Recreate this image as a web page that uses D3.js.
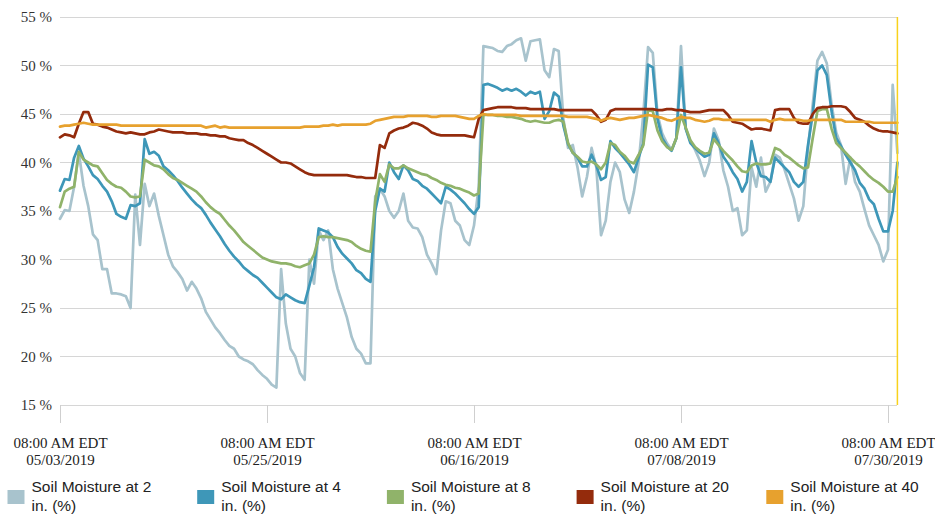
<!DOCTYPE html>
<html>
<head>
<meta charset="utf-8">
<script src="https://cdn.jsdelivr.net/npm/d3@7"></script>
<style>
  body { margin: 0; background: #fff; }
  svg { display: block; }
</style>
</head>
<body>
<svg id="chart" width="935" height="515"></svg>
<script>
// Readings every 12 hours, starting 08:00 AM EDT on 05/03/2019
const startTime = "2019-05-03T08:00:00-04:00";
const stepHours = 12;

const soil2 = [
  34.2, 35.1, 35.0, 37.5, 41.0, 37.6, 35.5, 32.6, 32.0, 29.0,
  29.0, 26.5, 26.5, 26.4, 26.2, 25.0, 36.7, 31.5, 37.8, 35.5,
  36.8, 34.5, 32.5, 30.5, 29.3, 28.7, 28.0, 26.8, 27.7, 27.0,
  26.0, 24.6, 23.8, 23.0, 22.4, 21.7, 21.1, 20.8, 20.0, 19.7,
  19.5, 19.2, 18.6, 18.1, 17.7, 17.1, 16.8, 29.0, 23.4, 20.8,
  20.0, 18.3, 17.6, 30.0, 27.5, 33.0, 32.0, 33.0, 29.0, 27.0,
  25.5, 24.0, 22.0, 20.8, 20.3, 19.3, 19.3, 36.5, 37.3, 36.5,
  35.0, 34.3, 35.0, 36.8, 34.0, 33.3, 33.2, 32.3, 30.5, 29.6,
  28.5, 33.0, 36.0, 35.8, 34.0, 33.5, 32.0, 31.5, 33.5, 37.5,
  52.0, 51.9, 51.8, 51.5, 51.4, 52.0, 52.2, 52.6, 52.8, 50.5,
  52.5, 52.6, 52.7, 49.5, 48.8, 51.7, 51.5, 44.5, 41.5, 41.8,
  39.5, 36.5, 38.5, 41.5, 39.5, 32.5, 34.0, 38.0, 40.0, 39.0,
  36.2, 34.8, 37.0, 40.0, 45.0, 51.9, 51.3, 45.0, 43.0, 42.0,
  41.3, 42.5, 52.0, 43.5, 42.2, 41.3, 40.2, 38.6, 40.0, 43.5,
  42.3, 39.2, 37.5, 35.0, 35.3, 32.5, 33.0, 39.5, 37.5, 40.5,
  37.0, 38.0, 40.8, 40.5, 39.3, 37.8, 36.3, 34.0, 35.5, 41.5,
  46.0, 50.5, 51.4, 50.2, 46.0, 43.1, 41.8, 37.8, 40.5, 38.0,
  37.0, 35.2, 33.5, 32.5, 31.5, 29.8, 31.0, 48.0, 41.0
];

const soil4 = [
  37.1, 38.3, 38.2, 40.5, 41.7, 40.4, 39.6, 38.7, 38.3, 37.6,
  37.0, 36.0, 34.7, 34.4, 34.2, 35.6, 35.5, 35.8, 42.4, 40.9,
  41.1, 40.7, 39.6, 39.2, 38.7, 38.1, 37.4, 36.8, 36.2, 35.7,
  35.3, 34.6, 33.8, 33.1, 32.4, 31.6, 30.9, 30.3, 29.8, 29.2,
  28.8, 28.4, 28.1, 27.6, 27.1, 26.6, 26.1, 25.9, 26.4, 26.1,
  25.8, 25.6, 25.5, 27.3, 29.2, 33.2, 33.0, 32.8, 32.3, 31.3,
  30.6, 30.1, 29.6, 28.9, 28.6, 28.0, 27.7, 35.0, 37.3, 37.0,
  40.0, 39.0, 38.3, 39.7, 39.2, 38.3, 38.1, 37.6, 37.3, 36.8,
  36.3, 35.8, 37.5, 37.2, 36.8, 36.3, 35.8, 35.2, 34.7, 35.4,
  48.0, 48.1, 47.9, 47.7, 47.4, 47.6, 47.4, 47.6, 47.3, 46.9,
  47.3, 47.1, 47.3, 44.5, 45.3, 47.2, 46.8, 43.8, 41.9, 41.0,
  40.5, 39.6, 39.6, 40.8, 39.7, 38.2, 38.5, 42.2, 41.5, 41.0,
  40.4, 39.8, 39.0, 40.5, 42.0, 50.1, 49.8, 44.5, 42.5, 41.7,
  41.2, 42.5, 49.8, 43.5, 42.0, 41.5, 41.0, 40.6, 40.8, 43.0,
  42.0, 40.6, 39.9, 39.0, 38.3, 37.0, 38.0, 42.2, 40.0, 38.6,
  38.5, 38.0, 40.5, 40.0, 39.5, 39.0, 38.0, 37.5, 38.0, 41.8,
  45.0, 49.5, 50.0, 49.0, 45.3, 42.5, 41.7, 40.8, 40.0, 39.2,
  37.9, 37.3, 36.2, 35.7, 34.2, 32.9, 32.9, 35.0, 40.0
];

const soil8 = [
  35.4, 37.0, 37.3, 37.5, 41.1, 40.3, 40.0, 39.7, 39.6, 38.9,
  38.2, 37.8, 37.5, 37.4, 37.0, 36.5, 36.4, 36.5, 40.3, 40.0,
  39.7, 39.6, 39.3, 38.8, 38.4, 38.2, 37.9, 37.6, 37.3, 37.0,
  36.5, 35.9, 35.4, 35.0, 34.7, 34.1, 33.5, 33.0, 32.4, 31.8,
  31.4, 31.0, 30.6, 30.2, 30.0, 29.8, 29.7, 29.6, 29.6, 29.5,
  29.3, 29.2, 29.4, 29.6, 30.5, 32.3, 32.4, 32.3, 32.3, 32.2,
  32.1, 32.0, 31.8, 31.4, 31.1, 30.9, 30.8, 36.0, 38.8, 38.0,
  39.8, 39.4, 39.4, 39.7, 39.4, 39.2, 39.0, 38.8, 38.7, 38.4,
  38.2, 37.9, 37.7, 37.6, 37.4, 37.3, 37.1, 36.9, 36.6, 36.8,
  44.9, 44.9, 44.9, 44.8, 44.8, 44.7, 44.7, 44.6, 44.5, 44.3,
  44.2, 44.3, 44.2, 44.1, 44.1, 44.3, 44.4, 44.2, 42.0, 41.0,
  40.6, 40.1, 40.0, 40.1, 39.8, 39.3, 40.0, 42.0, 41.8, 41.1,
  40.7, 40.1, 39.9, 40.8, 41.8, 45.4, 45.3, 43.3, 42.2, 41.6,
  41.3, 42.5, 44.9, 43.6, 42.3, 41.6, 41.2, 40.9, 41.0, 42.4,
  41.8, 41.2, 40.7, 40.2, 39.6, 39.1, 39.0, 39.7, 39.9, 39.8,
  39.8, 39.9, 41.5, 41.3, 40.8, 40.5, 40.1, 39.7, 39.4, 39.5,
  42.5, 45.3, 45.5, 45.5, 43.5, 42.0, 41.5, 41.0, 40.5, 40.0,
  39.6, 39.1, 38.6, 38.2, 37.9, 37.5, 37.0, 37.0, 38.5
];

const soil20 = [
  42.6, 42.9, 42.8, 42.6, 44.0, 45.2, 45.2, 44.0, 43.9, 43.7,
  43.6, 43.4, 43.2, 43.1, 43.0, 43.1, 43.0, 42.9, 42.9, 43.1,
  43.2, 43.4, 43.3, 43.2, 43.1, 43.1, 43.1, 43.0, 43.0, 43.0,
  42.9, 42.9, 42.8, 42.8, 42.7, 42.7, 42.5, 42.4, 42.3, 42.3,
  42.0, 41.8, 41.5, 41.2, 40.9, 40.6, 40.3, 40.0, 40.0, 39.9,
  39.6, 39.3, 39.0, 38.8, 38.7, 38.7, 38.7, 38.7, 38.7, 38.7,
  38.7, 38.7, 38.6, 38.5, 38.5, 38.4, 38.4, 38.4, 41.8, 41.5,
  43.0, 43.3, 43.5, 43.6, 43.8, 44.1, 44.0, 43.8, 43.5, 43.1,
  42.9, 42.8, 42.8, 42.8, 42.8, 42.8, 42.8, 42.7, 42.6, 44.5,
  45.4, 45.5, 45.6, 45.7, 45.7, 45.7, 45.7, 45.6, 45.6, 45.6,
  45.5, 45.5, 45.5, 45.5, 45.5, 45.5, 45.4, 45.4, 45.4, 45.4,
  45.4, 45.4, 45.4, 45.4, 44.9, 44.2, 44.4, 45.3, 45.5, 45.5,
  45.5, 45.5, 45.5, 45.5, 45.5, 45.5, 45.5, 45.4, 45.4, 45.5,
  45.5, 45.4, 45.4, 45.3, 45.2, 45.2, 45.2, 45.3, 45.4, 45.4,
  45.4, 45.4, 44.9, 44.2, 44.1, 44.0, 43.7, 43.4, 43.5, 43.5,
  43.4, 43.3, 45.4, 45.5, 45.5, 45.5, 44.6, 44.1, 44.0, 44.0,
  45.0, 45.6, 45.7, 45.7, 45.8, 45.8, 45.8, 45.7, 45.2, 44.6,
  44.4, 44.2, 43.8, 43.5, 43.3, 43.2, 43.2, 43.1, 43.0
];

const soil40 = [
  43.7, 43.8, 43.8, 43.9, 44.0, 44.1, 44.0, 43.9, 43.9, 43.9,
  43.9, 43.9, 43.9, 43.8, 43.8, 43.8, 43.8, 43.8, 43.8, 43.8,
  43.8, 43.8, 43.8, 43.8, 43.8, 43.8, 43.8, 43.8, 43.8, 43.8,
  43.8, 43.6, 43.7, 43.8, 43.6, 43.7, 43.6, 43.6, 43.6, 43.6,
  43.6, 43.6, 43.6, 43.6, 43.6, 43.6, 43.6, 43.6, 43.6, 43.6,
  43.6, 43.6, 43.7, 43.7, 43.7, 43.7, 43.8, 43.8, 43.9, 43.8,
  43.9, 43.9, 43.9, 43.9, 43.9, 43.9, 44.0, 44.3, 44.4, 44.5,
  44.6, 44.7, 44.7, 44.7, 44.8, 44.8, 44.8, 44.8, 44.8, 44.7,
  44.7, 44.8, 44.8, 44.8, 44.8, 44.7, 44.6, 44.5, 44.5, 44.8,
  45.0, 44.9, 44.9, 44.9, 44.9, 44.9, 44.9, 44.9, 44.8, 44.8,
  44.8, 44.8, 44.8, 44.8, 44.8, 44.8, 44.8, 44.8, 44.7, 44.7,
  44.7, 44.7, 44.7, 44.6, 44.5, 44.3, 44.5, 44.6, 44.5, 44.4,
  44.5, 44.6, 44.6, 44.7, 44.8, 44.9, 44.8, 44.7, 44.6, 44.4,
  44.3, 44.5, 44.7, 44.6, 44.6, 44.4, 44.3, 44.2, 44.3, 44.5,
  44.5, 44.4, 44.4, 44.4, 44.4, 44.4, 44.4, 44.4, 44.4, 44.4,
  44.4, 44.2, 44.4, 44.5, 44.4, 44.4, 44.4, 44.4, 44.3, 44.3,
  44.4, 44.4, 44.4, 44.4, 44.4, 44.4, 44.4, 44.2, 44.2, 44.2,
  44.2, 44.2, 44.2, 44.1, 44.1, 44.1, 44.1, 44.1, 44.1
];

const seriesValues = [soil2, soil4, soil8, soil20, soil40];
const legendNames = ["Soil Moisture at 2", "Soil Moisture at 4", "Soil Moisture at 8",
                     "Soil Moisture at 20", "Soil Moisture at 40"];
const legendUnit = "in. (%)";
const seriesColors = ["#a8c3cd", "#3e97b8", "#90b36a", "#942b0c", "#e7a12e"];

const yTicks = [15, 20, 25, 30, 35, 40, 45, 50, 55];
const xTickDays = ["2019-05-03", "2019-05-25", "2019-06-16", "2019-07-08", "2019-07-30"];

// ---- layout
const plotLeft = 60, plotRight = 897.4, plotTop = 17, plotBottom = 405;
const svg = d3.select("#chart");

const t0 = new Date(startTime).getTime();
const timeAt = i => new Date(t0 + i * stepHours * 3600 * 1000);
const n = soil2.length;

const x = d3.scaleUtc().domain([timeAt(0), timeAt(n - 1)]).range([plotLeft, plotRight]);
const y = d3.scaleLinear().domain([15, 55]).range([plotBottom, plotTop]);

// horizontal grid
svg.append("g")
  .selectAll("line").data(yTicks).join("line")
  .attr("x1", plotLeft).attr("x2", plotRight)
  .attr("y1", d => y(d)).attr("y2", d => y(d))
  .attr("stroke", "#d6d6d6").attr("stroke-width", 1)
  .attr("shape-rendering", "crispEdges");

// y axis labels
const yAxis = svg.append("g")
  .attr("transform", `translate(${plotLeft},0)`)
  .call(d3.axisLeft(y).tickValues(yTicks).tickSize(0).tickPadding(8).tickFormat(d => d + " %"));
yAxis.select(".domain").remove();
yAxis.selectAll("text")
  .attr("font-family", "'Liberation Serif', 'Times New Roman', serif")
  .attr("font-size", 15).attr("fill", "#333");

// x axis: two-line labels in EDT
const tickDates = xTickDays.map(d => new Date(d + "T08:00:00-04:00"));
const edt = d => new Date(d.getTime() - 4 * 3600 * 1000);
const fTime = d3.utcFormat("%I:%M %p");
const fDate = d3.utcFormat("%m/%d/%Y");

const xAxis = svg.append("g")
  .attr("transform", `translate(0,${plotBottom})`)
  .call(d3.axisBottom(x).tickValues(tickDates).tickSize(18).tickFormat(""));
xAxis.select(".domain").remove();
xAxis.selectAll(".tick line").attr("stroke", "#cfcfcf").attr("shape-rendering", "crispEdges");
xAxis.selectAll(".tick").each(function(d) {
  const g = d3.select(this);
  const t = g.append("text")
    .attr("text-anchor", "middle")
    .attr("font-family", "'Liberation Serif', 'Times New Roman', serif")
    .attr("font-size", 15).attr("fill", "#222");
  t.append("tspan").attr("x", 0).attr("y", 43).text(fTime(edt(d)) + " EDT");
  t.append("tspan").attr("x", 0).attr("y", 60).text(fDate(edt(d)));
});

// series lines
const line = d3.line()
  .x((v, i) => x(timeAt(i)))
  .y(v => y(v));

svg.append("g")
  .selectAll("path").data(seriesValues).join("path")
  .attr("d", d => line(d))
  .attr("fill", "none")
  .attr("stroke", (d, i) => seriesColors[i])
  .attr("stroke-width", 2.7)
  .attr("stroke-linejoin", "round")
  .attr("stroke-linecap", "round");

// current-time marker at the right edge
svg.append("line")
  .attr("x1", plotRight).attr("x2", plotRight)
  .attr("y1", plotTop).attr("y2", plotBottom)
  .attr("stroke", "#f8d21c").attr("stroke-width", 1.5);

// legend
const legend = svg.append("g")
  .selectAll("g").data(legendNames).join("g")
  .attr("transform", (d, i) => `translate(${7.5 + i * 189.7},0)`);
legend.append("rect")
  .attr("x", 0).attr("y", 490).attr("width", 17).attr("height", 14)
  .attr("fill", (d, i) => seriesColors[i]);
const lt = legend.append("text")
  .attr("font-family", "'Liberation Sans', Arial, sans-serif")
  .attr("font-size", 15.5).attr("fill", "#222");
lt.append("tspan").attr("x", 24).attr("y", 492).text(d => d);
lt.append("tspan").attr("x", 24).attr("y", 511).text(legendUnit);
</script>
</body>
</html>
